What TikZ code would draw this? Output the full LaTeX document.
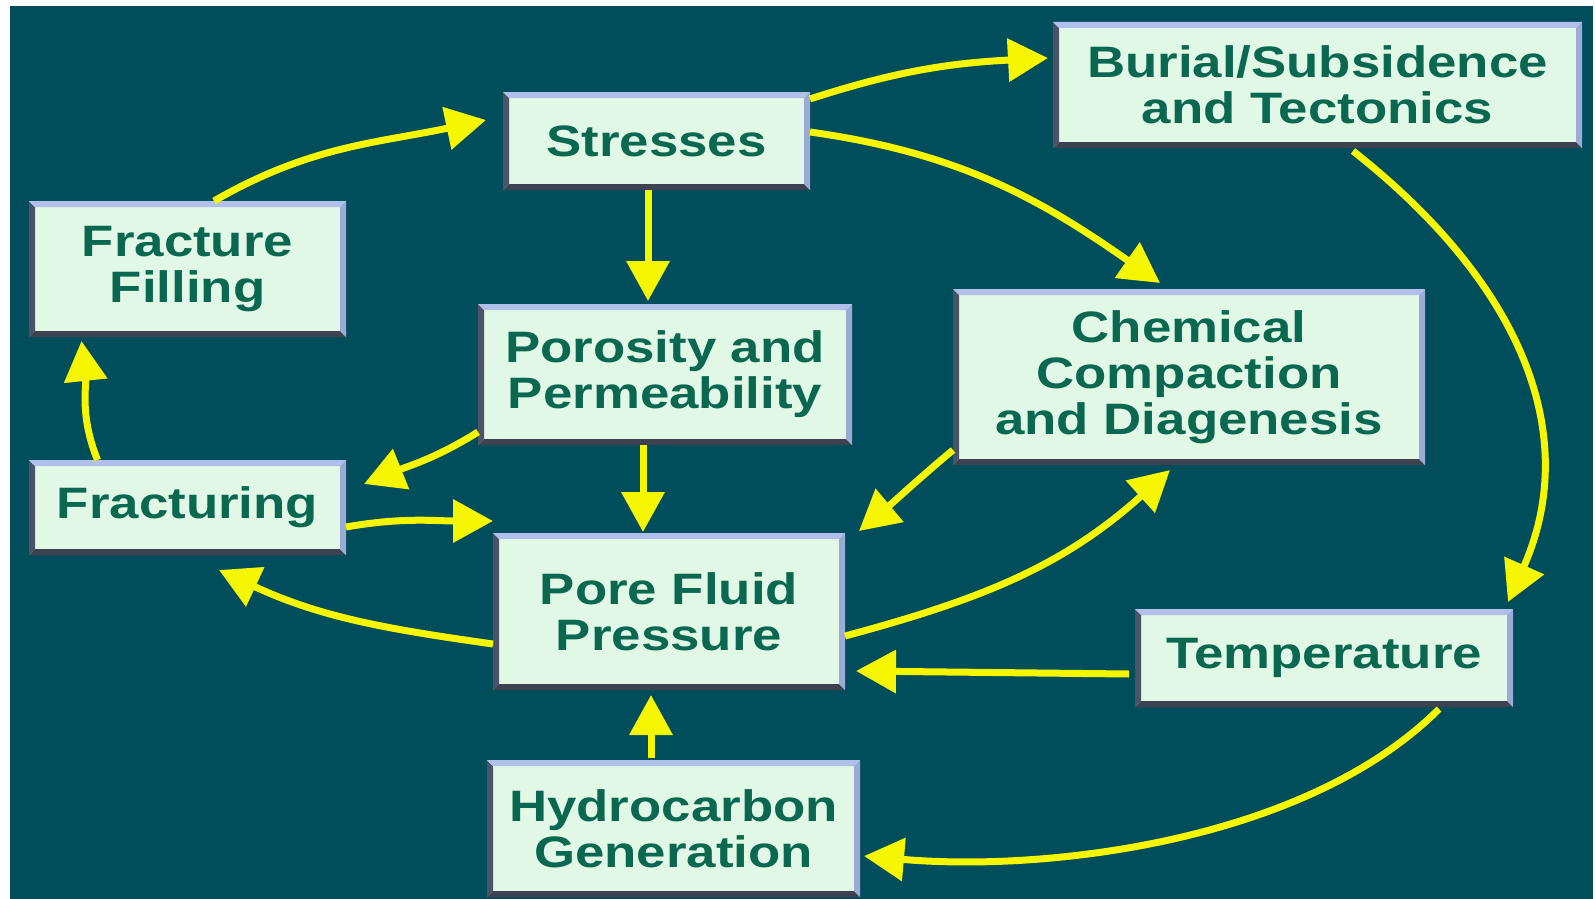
\documentclass[tikz,border=0pt]{standalone}
\usepackage{fontspec}
\newfontfamily\stagefont{Liberation Sans}[FakeStretch=1.2]
\usetikzlibrary{arrows.meta}

\definecolor{backteal}{HTML}{004E5B}
\definecolor{stagefill}{HTML}{E2F8E6}
\definecolor{stagetext}{HTML}{0A6850}
\definecolor{bevtop}{HTML}{B0C0EA}
\definecolor{bevright}{HTML}{9CAAD6}
\definecolor{bevleft}{HTML}{4A5468}
\definecolor{bevbottom}{HTML}{3C4250}
\definecolor{flowyellow}{HTML}{F6F600}

\newcommand\stagebevel{%
  \fill[bevleft] (path picture bounding box.north west) -- (path picture bounding box.south west)
    -- ([shift={(6pt,6pt)}]path picture bounding box.south west)
    -- ([shift={(6pt,-6pt)}]path picture bounding box.north west) -- cycle;
  \fill[bevbottom] (path picture bounding box.south west) -- (path picture bounding box.south east)
    -- ([shift={(-6pt,6pt)}]path picture bounding box.south east)
    -- ([shift={(6pt,6pt)}]path picture bounding box.south west) -- cycle;
  \fill[bevtop] (path picture bounding box.north west) -- (path picture bounding box.north east)
    -- ([shift={(-6pt,-6pt)}]path picture bounding box.north east)
    -- ([shift={(6pt,-6pt)}]path picture bounding box.north west) -- cycle;
  \fill[bevright] (path picture bounding box.north east) -- (path picture bounding box.south east)
    -- ([shift={(-6pt,6pt)}]path picture bounding box.south east)
    -- ([shift={(-6pt,-6pt)}]path picture bounding box.north east) -- cycle;
}

\tikzset{
  stage/.style = {rectangle, fill=stagefill, text=stagetext,
                  inner sep=0pt, outer sep=0pt, align=center,
                  font=\stagefont\bfseries\fontsize{44}{46}\selectfont,
                  path picture={\stagebevel}},
  flow/.style = {draw=flowyellow, line width=7pt,
                 -{Triangle[length=40pt,width=42pt]}}
}

\begin{document}
\begin{tikzpicture}[x=1pt, y=1pt]
	\useasboundingbox (0,0) rectangle (1595,-899);
	\fill[backteal] (10,-6) rectangle (1593,-910);

	% Boxes
	\node[stage, minimum width=307, minimum height=98]  (stress)  at (656.5,-141)  {Stresses};
	\node[stage, minimum width=529, minimum height=126] (burial)  at (1317.5,-85)  {Burial/Subsidence\\and Tectonics};
	\node[stage, minimum width=317, minimum height=136] (filling) at (187.5,-269)  {Fracture\\Filling};
	\node[stage, minimum width=374, minimum height=141] (poros)   at (665,-374.5)  {Porosity and\\Permeability};
	\node[stage, minimum width=472, minimum height=176] (chem)    at (1189,-377)   {Chemical\\Compaction\\and Diagenesis};
	\node[stage, minimum width=317, minimum height=95]  (fractur) at (187.5,-507.5) {Fracturing};
	\node[stage, minimum width=352, minimum height=157] (pore)    at (669,-611.5)  {Pore Fluid\\Pressure};
	\node[stage, minimum width=378, minimum height=98]  (temp)    at (1324,-658)   {Temperature};
	\node[stage, minimum width=373, minimum height=137] (hydro)   at (673.5,-828.5) {Hydrocarbon\\Generation};

	% Around Stresses
	\draw[flow] ([xshift=26.5pt]filling.north) to[out=30,in=192] ([xshift=-17pt,yshift=21pt]stress.west);
	\draw[flow] ([yshift=-7pt]stress.north east) to[out=18,in=183] ([xshift=-5pt,yshift=27pt]burial.west);
	\draw[flow] ([yshift=9pt]stress.east) to[out=-8,in=145] ([xshift=-29pt,yshift=6pt]chem.north);
	\draw[flow] ([xshift=-8.5pt]stress.south) -- ([xshift=-17pt,yshift=3pt]poros.north);

	% Porosity and fracturing
	\draw[flow] ([xshift=-22pt]poros.south) -- ([xshift=-26pt,yshift=1pt]pore.north);
	\draw[flow] ([yshift=13pt]poros.south west) to[out=212,in=22] ([xshift=18pt,yshift=-24pt]fractur.north east);
	\draw[flow] ([yshift=-19.5pt]fractur.east) to[out=10,in=180] ([yshift=12pt]pore.north west);
	\draw[flow] ([xshift=-90pt]fractur.north) to[out=112,in=-84] ([xshift=-106pt,yshift=-4pt]filling.south);
	\draw[flow] ([yshift=-32.5pt]pore.west) to[out=172,in=-25] ([xshift=31.5pt,yshift=-15pt]fractur.south);

	% Chemical compaction
	\draw[flow] ([yshift=-24.5pt]pore.east) to[out=15,in=222] ([xshift=-19pt,yshift=-5pt]chem.south);
	\draw[flow] ([yshift=15pt]chem.south west) to[out=-140,in=40] ([xshift=14pt,yshift=2pt]pore.north east);

	% Burial, temperature, generation
	\draw[flow] ([xshift=35.5pt,yshift=-3pt]burial.south) .. controls +(175,-138) and +(72,162) .. ([xshift=-5pt,yshift=7pt]temp.north east);
	\draw[flow] ([xshift=-6pt,yshift=-16pt]temp.west) -- ([xshift=11pt,yshift=19pt]pore.south east);
	\draw[flow] ([xshift=-22.5pt,yshift=2pt]hydro.north) -- ([xshift=-18pt,yshift=-5pt]pore.south);
	\draw[flow] ([xshift=115pt,yshift=-2pt]temp.south) to[out=-135,in=-5,looseness=0.8] ([xshift=4pt,yshift=-27.5pt]hydro.east);
\end{tikzpicture}
\end{document}
